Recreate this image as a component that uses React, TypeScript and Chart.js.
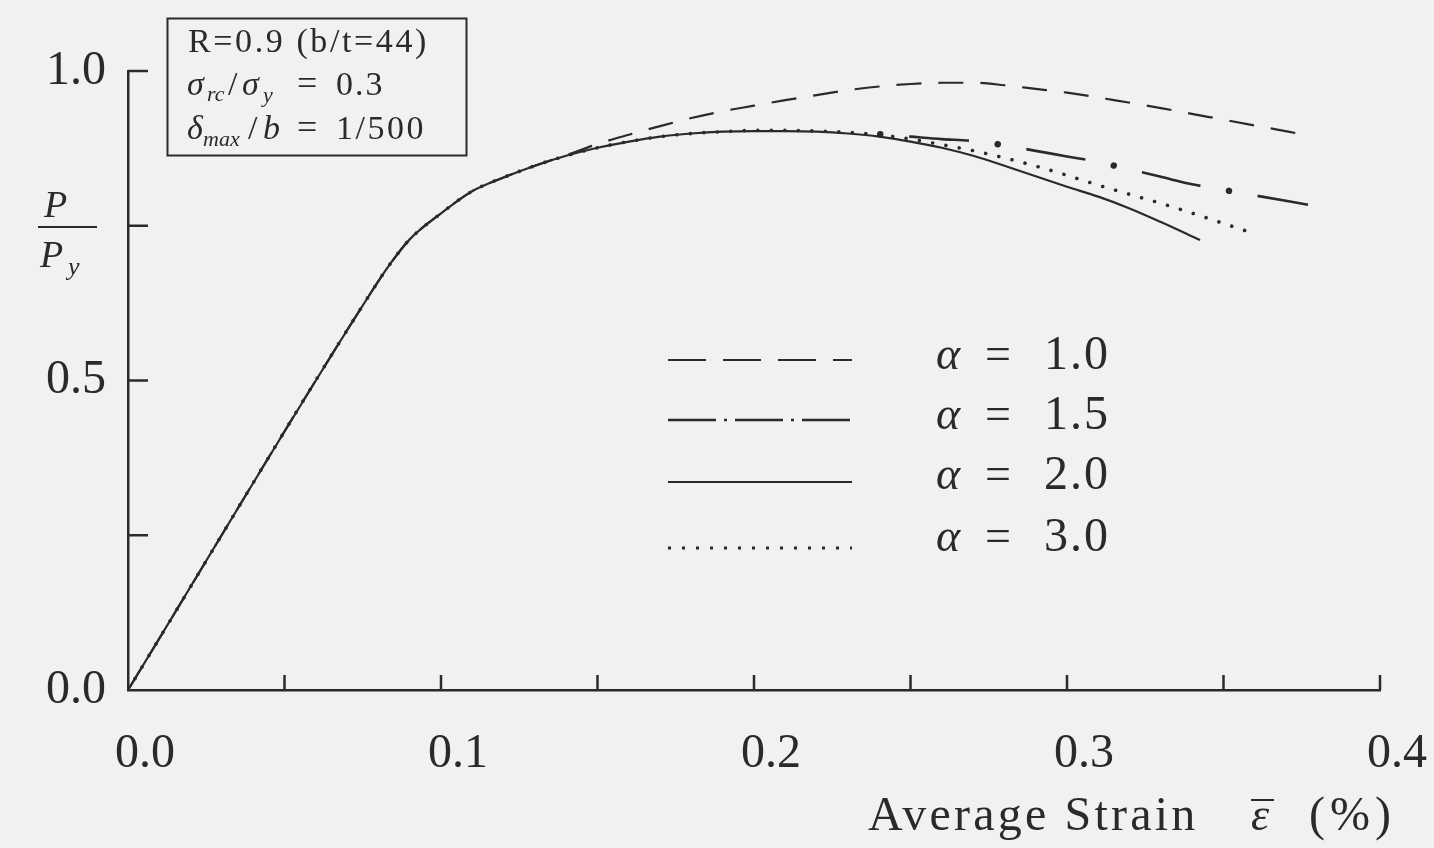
import React, { useEffect, useRef } from 'react';
import { Chart, registerables } from 'chart.js';

Chart.register(...registerables);

// ---- data (strain in %, load ratio P/Py) ----
const strainA10 = [0, 0.078, 0.084, 0.09, 0.1, 0.11, 0.12, 0.13, 0.14, 0.15, 0.16, 0.17, 0.18, 0.19, 0.2, 0.21, 0.22, 0.23, 0.24, 0.25, 0.26, 0.27, 0.28, 0.29, 0.3, 0.315, 0.33, 0.345, 0.36, 0.376];
const loadA10 = [0, 0.645, 0.69, 0.728, 0.77, 0.806, 0.828, 0.847, 0.864, 0.882, 0.897, 0.911, 0.924, 0.935, 0.944, 0.953, 0.961, 0.969, 0.975, 0.979, 0.981, 0.981, 0.977, 0.971, 0.965, 0.953, 0.94, 0.926, 0.912, 0.897];

const strainA15 = [0, 0.078, 0.084, 0.09, 0.1, 0.11, 0.12, 0.13, 0.14, 0.15, 0.16, 0.17, 0.18, 0.19, 0.2, 0.21, 0.22, 0.23, 0.24, 0.25, 0.26, 0.27, 0.28, 0.29, 0.3, 0.31, 0.32, 0.33, 0.34, 0.35, 0.36, 0.377];
const loadA15 = [0, 0.645, 0.69, 0.728, 0.77, 0.806, 0.828, 0.847, 0.863, 0.876, 0.886, 0.894, 0.899, 0.902, 0.904, 0.904, 0.903, 0.901, 0.898, 0.894, 0.89, 0.887, 0.88, 0.871, 0.862, 0.853, 0.841, 0.829, 0.817, 0.808, 0.799, 0.784];

const strainA20 = [0, 0.078, 0.084, 0.09, 0.1, 0.11, 0.12, 0.13, 0.14, 0.15, 0.16, 0.17, 0.18, 0.19, 0.2, 0.21, 0.22, 0.23, 0.24, 0.25, 0.26, 0.27, 0.28, 0.29, 0.3, 0.31, 0.32, 0.33, 0.3425];
const loadA20 = [0, 0.645, 0.69, 0.728, 0.77, 0.806, 0.828, 0.847, 0.863, 0.876, 0.886, 0.894, 0.899, 0.902, 0.903, 0.903, 0.902, 0.899, 0.894, 0.886, 0.876, 0.863, 0.847, 0.83, 0.813, 0.797, 0.778, 0.756, 0.727];

const strainA30 = [0, 0.078, 0.084, 0.09, 0.1, 0.11, 0.12, 0.13, 0.14, 0.15, 0.16, 0.17, 0.18, 0.19, 0.2, 0.21, 0.22, 0.23, 0.24, 0.25, 0.26, 0.273, 0.291, 0.313, 0.334, 0.357];
const loadA30 = [0, 0.645, 0.69, 0.728, 0.77, 0.806, 0.828, 0.847, 0.863, 0.876, 0.886, 0.894, 0.899, 0.902, 0.904, 0.904, 0.903, 0.901, 0.897, 0.89, 0.881, 0.868, 0.845, 0.811, 0.78, 0.742];

const alphaLabels = ['1.0', '1.5', '2.0', '3.0'];
const xTickValues = [0, 0.1, 0.2, 0.3, 0.4];
const yTickValues = [0, 0.5, 1.0];
// the α=1.5 curve coincides with α=2.0 below this strain; its dash-dot pattern is drawn from here on
const a15PatternStart = 0.24;

const INK = '#2a2a2a';
const SERIF = '"Liberation Serif", "DejaVu Serif", serif';

function pts(xs: number[], ys: number[]) {
  return xs.map((x, i) => ({ x, y: ys[i] }));
}

function isLabeled(v: number, list: number[]) {
  return list.some((t) => Math.abs(t - v) < 1e-6);
}

function put(ctx: CanvasRenderingContext2D, s: string, x: number, y: number, font: string, ls = 0) {
  ctx.font = font;
  (ctx as any).letterSpacing = ls + 'px';
  ctx.textAlign = 'left';
  ctx.textBaseline = 'alphabetic';
  ctx.fillText(s, x, y);
  (ctx as any).letterSpacing = '0px';
}

const decorPlugin = {
  id: 'decor',
  afterDraw(chart: any) {
    const ctx: CanvasRenderingContext2D = chart.ctx;
    const xs = chart.scales.x;
    const ys = chart.scales.y;
    const area = chart.chartArea;
    ctx.save();
    ctx.strokeStyle = INK;
    ctx.fillStyle = INK;
    ctx.lineWidth = 2.5;
    ctx.setLineDash([]);
    // inward tick marks
    for (let v = 0.05; v <= 0.4001; v += 0.05) {
      const px = xs.getPixelForValue(v);
      ctx.beginPath();
      ctx.moveTo(px, area.bottom);
      ctx.lineTo(px, area.bottom - 15);
      ctx.stroke();
    }
    for (let v = 0.25; v <= 1.0001; v += 0.25) {
      const py = ys.getPixelForValue(v);
      ctx.beginPath();
      ctx.moveTo(area.left, py);
      ctx.lineTo(area.left + 20, py);
      ctx.stroke();
    }

    // legend
    const rows = [
      { y: 360, dash: [38, 17], w: 2.2, cap: 'butt' },
      { y: 420, dash: [48, 8, 3, 8], w: 2.4, cap: 'butt' },
      { y: 482, dash: [], w: 2.2, cap: 'butt' },
      { y: 548, dash: [3, 11], w: 3, cap: 'butt' },
    ];
    const baselines = [369, 429, 489, 551];
    rows.forEach((r, i) => {
      ctx.lineWidth = r.w;
      ctx.lineCap = r.cap as CanvasLineCap;
      ctx.setLineDash(r.dash);
      ctx.beginPath();
      ctx.moveTo(668, r.y);
      ctx.lineTo(852, r.y);
      ctx.stroke();
      ctx.setLineDash([]);
      put(ctx, 'α', 936, baselines[i], `italic 46px ${SERIF}`);
      put(ctx, '=', 985, baselines[i], `46px ${SERIF}`);
      put(ctx, alphaLabels[i], 1044, baselines[i], `48px ${SERIF}`, 2);
    });

    // annotation box
    ctx.lineWidth = 2;
    ctx.strokeRect(167.5, 18.5, 299, 137);
    put(ctx, 'R=0.9 (b/t=44)', 188, 52, `34px ${SERIF}`, 2.6);
    put(ctx, 'σ', 187, 95, `italic 34px ${SERIF}`);
    put(ctx, 'rc', 207, 101, `italic 22px ${SERIF}`);
    put(ctx, '/', 228, 95, `34px ${SERIF}`);
    put(ctx, 'σ', 242, 95, `italic 34px ${SERIF}`);
    put(ctx, 'y', 263, 102, `italic 22px ${SERIF}`);
    put(ctx, '=', 297, 95, `36px ${SERIF}`);
    put(ctx, '0.3', 336, 95, `34px ${SERIF}`, 2);
    put(ctx, 'δ', 187, 139, `italic 34px ${SERIF}`);
    put(ctx, 'max', 203, 146, `italic 22px ${SERIF}`);
    put(ctx, '/', 248, 139, `34px ${SERIF}`);
    put(ctx, 'b', 263, 139, `italic 34px ${SERIF}`);
    put(ctx, '=', 297, 139, `36px ${SERIF}`);
    put(ctx, '1/500', 336, 139, `34px ${SERIF}`, 2.5);

    // y axis title P / Py
    put(ctx, 'P', 44, 217, `italic 38px ${SERIF}`);
    ctx.lineWidth = 2;
    ctx.beginPath();
    ctx.moveTo(38, 227);
    ctx.lineTo(97, 227);
    ctx.stroke();
    put(ctx, 'P', 40, 267, `italic 38px ${SERIF}`);
    put(ctx, 'y', 68, 275, `italic 26px ${SERIF}`);

    // x axis title
    put(ctx, 'Average Strain', 868, 830, `48px ${SERIF}`, 3.2);
    put(ctx, 'ε', 1251, 830, `italic 46px ${SERIF}`);
    ctx.lineWidth = 2;
    ctx.beginPath();
    ctx.moveTo(1251, 800);
    ctx.lineTo(1274, 800);
    ctx.stroke();
    put(ctx, '(%)', 1309, 830, `48px ${SERIF}`, 5);
    ctx.restore();
  },
};

export default function App() {
  const ref = useRef<HTMLCanvasElement | null>(null);
  useEffect(() => {
    if (!ref.current) return;
    const common = {
      borderColor: INK,
      borderWidth: 2.2,
      pointRadius: 0,
      fill: false,
      cubicInterpolationMode: 'monotone',
    };
    const a15 = pts(strainA15, loadA15).filter((p) => p.x >= a15PatternStart - 1e-9);
    const chart = new Chart(ref.current, {
      type: 'line',
      data: {
        datasets: [
          { ...common, label: 'α = ' + alphaLabels[0], data: pts(strainA10, loadA10), borderDash: [25, 17] },
          { ...common, label: 'α = ' + alphaLabels[1], data: a15, borderDash: [60, 58], borderDashOffset: 88, borderWidth: 2.6 },
          { ...common, label: 'α = ' + alphaLabels[1] + ' (dots)', data: a15, borderDash: [0.01, 117.99], borderDashOffset: 117, borderCapStyle: 'round', borderWidth: 6.5 },
          { ...common, label: 'α = ' + alphaLabels[2], data: pts(strainA20, loadA20) },
          { ...common, label: 'α = ' + alphaLabels[3], data: pts(strainA30, loadA30), borderDash: [0.01, 13.5], borderCapStyle: 'round', borderWidth: 3.6 },
        ],
      },
      options: {
        responsive: false,
        animation: false,
        events: [],
        layout: { padding: { left: 0, top: 71, right: 54, bottom: 0 } },
        plugins: { legend: { display: false }, tooltip: { enabled: false } },
        scales: {
          x: {
            type: 'linear',
            min: 0,
            max: 0.4,
            grid: { display: false, drawTicks: false },
            border: { display: true, color: INK, width: 2.5 },
            ticks: {
              stepSize: 0.05,
              color: INK,
              font: { family: SERIF, size: 48 },
              padding: 36,
              labelOffset: 17,
              maxRotation: 0,
              autoSkip: false,
              callback: (v: any) => (isLabeled(Number(v), xTickValues) ? Number(v).toFixed(1) : ''),
            },
            afterFit: (s: any) => {
              s.height = 158;
              s.paddingLeft = 0;
              s.paddingRight = 0;
            },
          },
          y: {
            type: 'linear',
            min: 0,
            max: 1,
            grid: { display: false, drawTicks: false },
            border: { display: true, color: INK, width: 2.5 },
            ticks: {
              stepSize: 0.25,
              color: INK,
              font: { family: SERIF, size: 48 },
              padding: 22,
              autoSkip: false,
              callback: (v: any) => (isLabeled(Number(v), yTickValues) ? Number(v).toFixed(1) : ''),
            },
            afterFit: (s: any) => {
              s.width = 128;
              s.paddingTop = 0;
              s.paddingBottom = 0;
            },
          },
        },
      },
      plugins: [decorPlugin],
    } as any);
    return () => chart.destroy();
  }, []);
  return (
    <div style={{ position: 'fixed', left: 0, top: 0, width: 1434, height: 848, background: '#f1f1f3' }}>
      <canvas ref={ref} width={1434} height={848} style={{ display: 'block' }} />
    </div>
  );
}
